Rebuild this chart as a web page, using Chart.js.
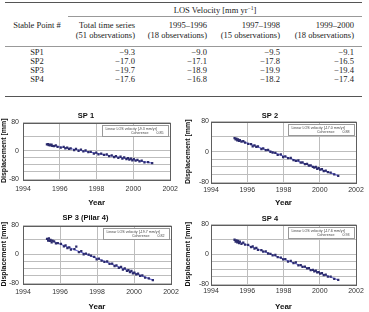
<!DOCTYPE html>
<html>
<head>
<meta charset="utf-8">
<script src="https://cdn.jsdelivr.net/npm/chart.js@4.4.0/dist/chart.umd.min.js"></script>
<style>
body { margin: 0; background: #fff; width: 369px; height: 312px; position: relative; overflow: hidden;
       font-family: "Liberation Serif", serif; color: #222; }
.t { position: absolute; font-size: 8.5px; line-height: 9px; white-space: nowrap; }
.t sup { font-size: 5.5px; vertical-align: 3px; line-height: 0; }
.rule { position: absolute; }
.box { position: absolute; }
</style>
</head>
<body>
<div class="box" style="left:0;top:108px;width:184px;height:100px"><canvas id="c0"></canvas></div>
<div class="box" style="left:184px;top:108px;width:185px;height:100px"><canvas id="c1"></canvas></div>
<div class="box" style="left:0;top:208px;width:184px;height:104px"><canvas id="c2"></canvas></div>
<div class="box" style="left:184px;top:208px;width:185px;height:104px"><canvas id="c3"></canvas></div>
<script>
// table
var columnHeads = ['Total time series', '1995–1996', '1997–1998', '1999–2000'];
var columnObs = ['(51 observations)', '(18 observations)', '(15 observations)', '(18 observations)'];
var stablePoints = ['SP1', 'SP2', 'SP3', 'SP4'];
var velTotal = [-9.3, -17.0, -19.7, -17.6];
var vel9596 = [-9.0, -17.1, -18.9, -16.8];
var vel9798 = [-9.5, -17.8, -19.9, -18.2];
var vel9900 = [-9.1, -16.5, -19.4, -17.4];

// time series (decimal year of each of the 51 acquisitions)
var obsYears = [1995.30, 1995.36, 1995.40, 1995.45, 1995.49, 1995.55, 1995.59, 1995.68, 1995.78, 1995.88,
  1996.05, 1996.21, 1996.30, 1996.40, 1996.50, 1996.59, 1996.78, 1996.88,
  1997.02, 1997.15, 1997.28, 1997.40, 1997.55, 1997.68, 1997.85, 1997.98, 1998.10, 1998.25, 1998.40,
  1998.55, 1998.68, 1998.82, 1998.95,
  1999.05, 1999.18, 1999.30, 1999.40, 1999.50, 1999.62, 1999.70, 1999.78, 1999.86, 1999.94,
  2000.02, 2000.12, 2000.22, 2000.33, 2000.45, 2000.60, 2000.80, 2001.02];
var sp1 = [18, 19, 16, 17, 15, 17, 14, 13, 15, 11, 9, 11, 7, 9, 5, 7, 2, 5,
  0, 3, -2, 1, -4, -3, -8, -5, -10, -8, -12, -10, -15, -13, -18,
  -15, -20, -17, -22, -19, -24, -21, -25, -22, -27, -24, -28, -26, -30, -28, -33, -32, -35];
var sp2 = [36, 33, 35, 30, 33, 29, 31, 27, 28, 24, 21, 20, 14, 17, 13, 14, 7, 9,
  4, 5, 0, -2, -3, -8, -7, -14, -12, -17, -16, -22, -24, -23, -29,
  -28, -33, -32, -37, -36, -40, -42, -40, -45, -43, -47, -46, -51, -50, -54, -55, -60, -64];
var sp3 = [43, 38, 44, 37, 40, 33, 38, 36, 30, 31, 29, 22, 25, 17, 19, 13, 14, 21,
  6, 9, 0, 2, -1, -4, -7, -14, -12, -18, -21, -20, -27, -26, -33,
  -31, -38, -35, -43, -39, -46, -44, -50, -46, -53, -51, -56, -54, -60, -59, -65, -67, -72];
var sp4 = [39, 34, 37, 32, 36, 30, 34, 28, 31, 26, 25, 19, 21, 15, 17, 12, 11, 7,
  8, 2, 1, -3, -2, -8, -9, -14, -13, -20, -18, -24, -22, -30, -29,
  -34, -33, -38, -37, -43, -42, -46, -44, -49, -48, -52, -51, -56, -55, -60, -60, -66, -69];
var series = [sp1, sp2, sp3, sp4];
var chartTitles = ['SP 1', 'SP 2', 'SP 3 (Pilar 4)', 'SP 4'];
var coherence = ['0.85', '0.88', '0.82', '0.93'];
var xTicks = [1994, 1996, 1998, 2000, 2002];
var yGridTicks = [80, 40, 0, -20, -40, -60, -80];
var yLabelTicks = [80, 0, -80];

function fmt(v) { return v.toFixed(1).replace('-', '\u2212'); }

function put(html, x, y, align) {
  var d = document.createElement('div');
  d.className = 't';
  d.innerHTML = html;
  d.style.left = x + 'px';
  d.style.top = y + 'px';
  var tx = align === 'right' ? '-100%' : align === 'center' ? '-50%' : '0';
  d.style.transform = 'translate(' + tx + ',-50%)';
  document.body.appendChild(d);
}
function rule(x, y, w, h, c) {
  var d = document.createElement('div');
  d.className = 'rule';
  d.style.cssText = 'left:' + x + 'px;top:' + y + 'px;width:' + w + 'px;height:' + h + 'px;background:' + c;
  document.body.appendChild(d);
}

rule(5, 2, 357, 1, '#555');
rule(68, 16, 294, 1, '#999');
rule(5, 46, 357, 1, '#999');
rule(5, 96, 357, 1, '#555');

put('LOS Velocity [mm yr<sup>\u22121</sup>]', 215, 10, 'center');
put('Stable Point #', 37, 25, 'center');
var colRight = [135, 207, 280, 354];
columnHeads.forEach(function (h, c) {
  put(h, colRight[c], 25, 'right');
  put(columnObs[c], colRight[c], 35, 'right');
});
var rowY = [52, 61, 70, 79];
var cols = [velTotal, vel9596, vel9798, vel9900];
stablePoints.forEach(function (sp, r) {
  put(sp, 37, rowY[r], 'center');
  cols.forEach(function (col, c) { put(fmt(col[r]), colRight[c], rowY[r], 'right'); });
});

// charts
Chart.defaults.font.family = '"Liberation Sans", Arial, sans-serif';

var layouts = [
  { yW: 23, xH: 29, padR: 12, tTop: 4, tBot: 3, tickPad: 6, yTickPad: 4 },
  { yW: 27, xH: 26, padR: 13, tTop: 4, tBot: 2, tickPad: 4, yTickPad: 2 },
  { yW: 23, xH: 29, padR: 13, tTop: 6, tBot: 4, tickPad: 5, yTickPad: 4 },
  { yW: 27, xH: 28, padR: 13, tTop: 7, tBot: 2, tickPad: 3, yTickPad: 2 }
];

function fitLine(xs, ys) {
  var n = xs.length, sx = 0, sy = 0, sxx = 0, sxy = 0;
  for (var k = 0; k < n; k++) { sx += xs[k]; sy += ys[k]; sxx += xs[k] * xs[k]; sxy += xs[k] * ys[k]; }
  var b = (n * sxy - sx * sy) / (n * sxx - sx * sx);
  return { a: (sy - b * sx) / n, b: b };
}

var framePlugin = {
  id: 'frame',
  afterDraw: function (chart, args, opts) {
    var ctx = chart.ctx, a = chart.chartArea;
    ctx.save();
    ctx.strokeStyle = '#5e5e5e';
    ctx.lineWidth = 1;
    ctx.strokeRect(Math.round(a.left) + 0.5, Math.round(a.top) + 0.5, Math.round(a.right - a.left), Math.round(a.bottom - a.top));
    var bw = 66, bh = 11, bx = Math.round(a.right) - bw - 2 + 0.5, by = Math.round(a.top) + 2 + 0.5;
    ctx.fillStyle = '#fff';
    ctx.fillRect(bx, by, bw, bh);
    ctx.strokeStyle = '#999';
    ctx.strokeRect(bx, by, bw, bh);
    ctx.fillStyle = '#444';
    ctx.font = '3.6px "Liberation Sans", Arial';
    ctx.textBaseline = 'middle';
    ctx.textAlign = 'left';
    ctx.fillText('Linear LOS velocity [' + opts.velocity + ' mm/yr]', bx + 3, by + 3.2);
    ctx.textAlign = 'right';
    ctx.fillText('Coherence', bx + bw - 20, by + 7.8);
    ctx.textAlign = 'left';
    ctx.fillText(opts.coherence, bx + bw - 12, by + 7.8);
    ctx.restore();
  }
};

series.forEach(function (vals, i) {
  var L = layouts[i];
  var pts = obsYears.map(function (x, k) { return { x: x, y: vals[k] }; });
  var f = fitLine(obsYears, vals);
  var x0 = obsYears[0], x1 = obsYears[obsYears.length - 1];
  new Chart(document.getElementById('c' + i), {
    type: 'scatter',
    data: {
      datasets: [
        { data: pts, pointStyle: 'rect', pointRadius: 1.6, backgroundColor: '#2b2b6c', borderColor: '#2b2b6c', borderWidth: 0 },
        { type: 'line', data: [{ x: x0, y: f.a + f.b * x0 }, { x: x1, y: f.a + f.b * x1 }],
          borderColor: '#7070d8', borderWidth: 1.2, pointRadius: 0, fill: false }
      ]
    },
    options: {
      responsive: true,
      maintainAspectRatio: false,
      animation: false,
      layout: { padding: { left: 0, right: L.padR, top: 0, bottom: 0 } },
      plugins: {
        legend: { display: false },
        tooltip: { enabled: false },
        title: { display: true, text: chartTitles[i], color: '#111',
          font: { size: 7.5, weight: 'bold', lineHeight: 1 }, padding: { top: L.tTop, bottom: L.tBot } },
        frame: { velocity: fmt(velTotal[i]).replace('\u2212', '-'), coherence: coherence[i] }
      },
      scales: {
        x: {
          type: 'linear', min: 1994, max: 2002,
          afterBuildTicks: function (s) { s.ticks = xTicks.map(function (v) { return { value: v }; }); },
          afterFit: function (s) { s.height = L.xH; },
          grid: { color: '#bdbdbd', drawTicks: false },
          border: { display: false },
          ticks: { padding: L.tickPad, color: '#333', font: { size: 7 }, maxRotation: 0, autoSkip: false,
            callback: function (v) { return String(v); } },
          title: { display: true, text: 'Year', color: '#111', font: { size: 8, weight: 'bold' }, padding: { top: 0, bottom: 0 } }
        },
        y: {
          min: -80, max: 80,
          afterBuildTicks: function (s) { s.ticks = yGridTicks.map(function (v) { return { value: v }; }); },
          afterFit: function (s) { s.width = L.yW; },
          grid: { color: '#bdbdbd', drawTicks: false },
          border: { display: false },
          ticks: { padding: L.yTickPad, color: '#333', font: { size: 7 }, autoSkip: false,
            callback: function (v) { return yLabelTicks.indexOf(v) >= 0 ? String(v) : ''; } },
          title: { display: true, text: 'Displacement [mm]', color: '#111', font: { size: 7, weight: 'bold' }, padding: { top: 0, bottom: 0 } }
        }
      }
    },
    plugins: [framePlugin]
  });
});
</script>
</body>
</html>
